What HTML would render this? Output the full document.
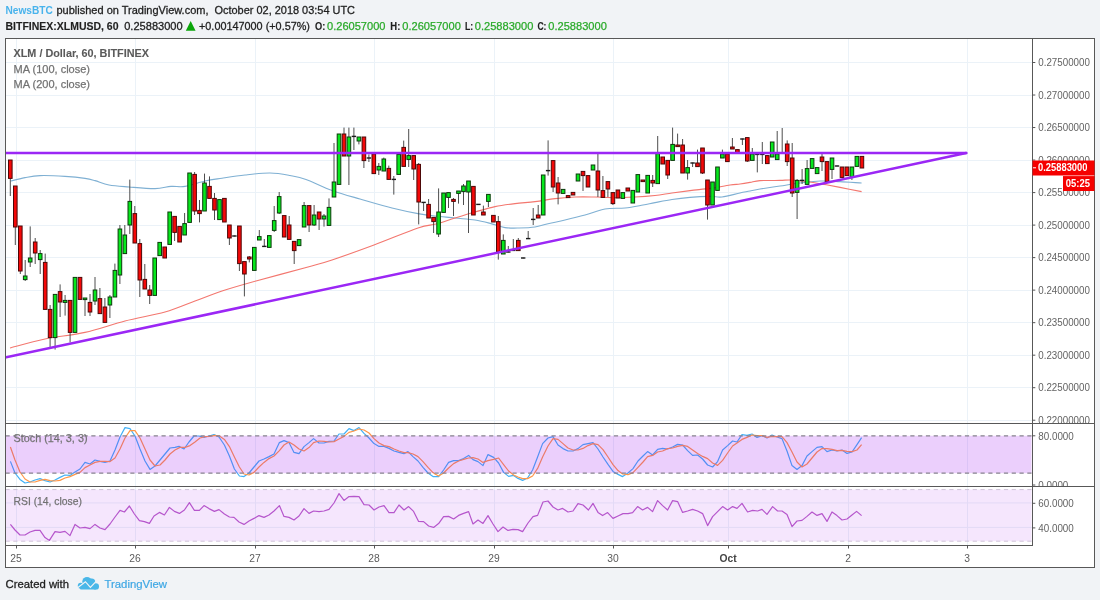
<!DOCTYPE html>
<html lang="en"><head><meta charset="utf-8"><title>XLMUSD chart</title>
<style>html,body{margin:0;padding:0;background:#f1f3f6;}body{width:1100px;height:600px;overflow:hidden;font-family:"Liberation Sans", "DejaVu Sans", sans-serif;}svg{display:block}text{font-family:"Liberation Sans", "DejaVu Sans", sans-serif;}</style></head><body>
<svg width="1100" height="600" viewBox="0 0 1100 600">
<rect x="0" y="0" width="1100" height="600" fill="#f1f3f6"/>
<rect x="5.5" y="38.5" width="1089" height="529" fill="#ffffff"/>
<g stroke="#ebf2f8" stroke-width="1" shape-rendering="crispEdges">
<line x1="16.5" y1="38.5" x2="16.5" y2="545.5"/>
<line x1="135.5" y1="38.5" x2="135.5" y2="545.5"/>
<line x1="255.5" y1="38.5" x2="255.5" y2="545.5"/>
<line x1="374.5" y1="38.5" x2="374.5" y2="545.5"/>
<line x1="494.5" y1="38.5" x2="494.5" y2="545.5"/>
<line x1="613.5" y1="38.5" x2="613.5" y2="545.5"/>
<line x1="728.5" y1="38.5" x2="728.5" y2="545.5"/>
<line x1="848.5" y1="38.5" x2="848.5" y2="545.5"/>
<line x1="967.5" y1="38.5" x2="967.5" y2="545.5"/>
<line x1="5.5" y1="62.5" x2="1032.5" y2="62.5"/>
<line x1="5.5" y1="95.5" x2="1032.5" y2="95.5"/>
<line x1="5.5" y1="127.5" x2="1032.5" y2="127.5"/>
<line x1="5.5" y1="160.5" x2="1032.5" y2="160.5"/>
<line x1="5.5" y1="192.5" x2="1032.5" y2="192.5"/>
<line x1="5.5" y1="225.5" x2="1032.5" y2="225.5"/>
<line x1="5.5" y1="257.5" x2="1032.5" y2="257.5"/>
<line x1="5.5" y1="290.5" x2="1032.5" y2="290.5"/>
<line x1="5.5" y1="322.5" x2="1032.5" y2="322.5"/>
<line x1="5.5" y1="355.5" x2="1032.5" y2="355.5"/>
<line x1="5.5" y1="387.5" x2="1032.5" y2="387.5"/>
<line x1="5.5" y1="420.5" x2="1032.5" y2="420.5"/>
<line x1="5.5" y1="502.9" x2="1032.5" y2="502.9" shape-rendering="auto"/>
<line x1="5.5" y1="527.4" x2="1032.5" y2="527.4" shape-rendering="auto"/>
</g>
<defs><clipPath id="c1"><rect x="5.5" y="38.5" width="1027" height="385"/></clipPath>
<clipPath id="c2"><rect x="5.5" y="423.5" width="1027" height="63"/></clipPath>
<clipPath id="a1"><rect x="1032.5" y="38.5" width="62" height="384.5"/></clipPath>
<clipPath id="a2"><rect x="1032.5" y="423.5" width="62" height="62.5"/></clipPath>
<clipPath id="c3"><rect x="5.5" y="486.5" width="1027" height="59"/></clipPath></defs>
<polyline points="10.4,461.4 15.0,473.0 20.0,479.4 25.0,483.0 30.0,482.0 35.0,480.0 40.0,478.6 45.0,480.6 50.0,482.0 55.0,480.0 60.0,477.4 65.0,475.0 70.0,475.4 75.0,472.0 80.0,469.0 85.0,462.4 90.0,464.0 95.0,460.0 100.0,461.4 105.0,462.4 110.0,461.0 115.0,450.0 120.0,437.0 125.0,427.6 130.0,428.6 135.0,436.0 140.0,449.0 145.0,461.0 150.0,469.4 155.0,466.0 160.0,460.0 165.0,454.0 170.0,448.0 175.0,447.4 179.0,446.4 184.0,449.0 189.0,442.0 194.0,436.0 199.0,436.0 204.0,437.4 209.0,436.0 214.0,434.6 219.0,437.0 224.4,445.0 229.4,456.0 234.4,469.0 239.4,476.0 244.0,476.6 249.0,473.0 254.0,467.0 259.0,461.0 264.0,459.0 269.0,456.6 274.0,454.0 279.4,442.6 284.0,440.6 289.0,442.6 294.0,452.4 299.0,453.6 304.0,446.6 309.0,442.6 313.6,438.6 319.0,443.0 324.0,443.0 329.0,441.4 334.0,441.0 339.0,434.0 344.0,434.0 349.0,428.6 354.0,430.6 359.0,427.6 364.0,433.4 369.0,438.0 374.0,443.6 379.0,446.4 384.0,446.4 389.0,448.4 394.0,451.0 399.0,452.4 404.0,453.6 408.0,451.6 413.0,456.6 418.0,461.0 423.0,467.4 428.0,473.0 433.0,476.6 435.0,476.6 438.6,476.6 443.6,470.0 448.6,462.4 453.6,460.6 458.6,460.6 463.6,458.6 468.6,455.4 473.0,459.6 478.0,461.6 483.0,465.6 488.0,454.6 493.6,457.4 498.6,463.0 503.6,472.4 508.6,476.4 513.6,475.4 518.0,478.4 522.6,480.4 527.6,478.0 532.6,470.0 537.6,457.0 542.6,443.6 548.0,438.0 553.0,436.6 558.0,445.0 563.0,448.6 568.0,451.0 573.0,451.0 578.0,448.6 583.0,444.6 588.0,443.6 593.0,442.6 598.0,449.0 603.0,457.0 608.0,464.4 613.0,471.4 618.0,474.4 622.6,476.6 628.0,473.0 633.0,468.6 638.0,461.0 643.0,456.0 647.6,451.6 652.6,455.0 657.6,449.4 662.6,448.4 667.6,449.0 672.6,447.0 677.6,444.4 682.6,445.0 687.6,450.6 692.6,455.4 697.6,455.0 702.6,459.0 707.6,465.0 712.6,467.0 717.6,461.6 722.6,450.0 727.6,445.6 732.6,441.0 737.0,442.0 742.0,434.6 747.0,435.4 752.0,434.0 757.0,437.4 762.0,435.6 767.0,438.0 772.0,435.0 777.0,437.0 782.0,438.6 787.0,451.0 792.0,465.6 797.0,469.4 802.0,465.6 807.0,456.0 812.0,451.6 817.0,447.4 822.0,446.6 827.0,451.6 832.0,450.0 837.0,451.0 842.0,450.0 847.0,453.4 852.0,452.0 857.0,444.6 861.6,437.6" fill="none" stroke="#42b0f6" stroke-width="1.2" stroke-linejoin="round" clip-path="url(#c2)" />
<polyline points="10.4,447.0 15.0,460.0 20.0,472.0 25.0,479.0 30.0,482.0 35.0,482.0 40.0,480.4 45.0,479.4 50.0,480.6 55.0,481.0 60.0,480.4 65.0,478.0 70.0,476.6 75.0,474.4 80.0,472.4 85.0,467.6 90.0,465.0 95.0,462.4 100.0,461.4 105.0,461.4 110.0,461.6 115.0,458.0 120.0,449.0 125.0,438.0 130.0,430.6 135.0,430.6 140.0,438.0 145.0,449.0 150.0,460.0 155.0,466.0 160.0,465.0 165.0,460.0 170.0,454.0 175.0,450.0 180.0,447.4 185.0,447.4 190.0,445.6 195.0,442.0 200.0,438.0 205.0,436.6 210.0,436.4 215.0,435.4 219.4,436.0 224.4,439.4 229.4,446.6 234.4,457.0 239.4,467.0 244.0,474.0 249.0,475.0 254.0,472.4 259.0,467.0 264.0,462.4 269.0,458.6 274.0,456.0 279.4,450.6 284.0,445.0 289.0,442.0 294.0,445.0 299.0,449.0 304.0,451.0 309.0,447.6 313.6,442.6 319.0,441.0 324.0,441.4 329.0,442.0 334.0,441.6 339.0,439.0 344.0,436.4 349.0,432.4 354.0,431.0 359.0,429.0 364.0,430.0 369.0,433.0 374.0,438.6 379.0,443.0 384.0,445.6 389.0,446.6 394.0,449.0 399.0,451.0 404.0,452.6 408.0,452.6 413.0,454.0 418.0,456.6 423.0,461.6 428.0,467.4 433.0,472.6 435.0,474.0 438.6,476.0 443.6,473.0 448.6,468.0 453.6,463.6 458.6,461.0 463.6,459.4 468.6,458.0 473.0,457.6 478.0,459.0 483.0,462.4 488.0,460.6 493.6,459.4 498.6,458.0 503.6,464.6 508.6,471.0 513.6,475.0 518.0,477.0 522.6,478.6 527.6,478.6 532.6,476.0 537.6,468.4 542.6,457.0 548.0,446.0 553.0,438.6 558.0,439.4 563.0,443.6 568.0,448.0 573.0,450.0 578.0,450.0 583.0,448.4 588.0,445.6 593.0,443.6 598.0,444.6 603.0,449.6 608.0,457.0 613.0,464.6 618.0,470.6 622.6,474.0 628.0,474.6 633.0,472.6 638.0,467.4 643.0,462.0 647.6,456.6 652.6,455.4 657.6,452.0 662.6,451.0 667.6,448.6 672.6,448.0 677.6,446.4 682.6,445.4 687.6,446.4 692.6,450.0 697.6,453.6 702.6,456.4 707.6,458.6 712.6,463.0 717.6,465.4 722.6,460.4 727.6,453.0 732.6,446.0 737.0,443.0 742.0,439.4 747.0,437.4 752.0,435.0 757.0,435.6 762.0,435.6 767.0,437.4 772.0,436.4 777.0,436.6 782.0,436.6 787.0,442.6 792.0,452.0 797.0,462.0 802.0,467.0 807.0,464.0 812.0,458.0 817.0,452.0 822.0,448.6 827.0,448.6 832.0,449.4 837.0,450.6 842.0,450.4 847.0,451.4 852.0,451.6 857.0,450.0 861.6,444.6" fill="none" stroke="#ff9648" stroke-width="1.2" stroke-linejoin="round" clip-path="url(#c2)" />
<polyline points="10.4,524.4 15.0,530.0 20.0,535.0 25.0,535.0 30.0,532.0 35.0,530.4 40.0,530.4 45.0,537.6 49.4,540.4 55.0,531.6 60.0,532.4 65.0,531.4 70.0,535.6 75.0,524.4 80.0,528.0 85.0,527.4 90.0,528.6 95.0,524.4 100.0,528.0 105.0,529.6 110.0,524.0 115.0,517.0 120.0,510.4 124.4,512.0 129.4,506.0 134.4,514.0 139.4,520.6 144.4,521.6 149.4,523.4 154.0,516.0 159.4,512.4 164.4,515.0 169.4,507.4 174.4,511.4 179.4,513.4 184.4,510.0 189.4,502.6 194.4,510.4 199.4,510.4 204.0,505.6 209.0,508.6 214.4,511.4 219.0,509.6 224.4,514.0 229.4,517.0 234.0,517.4 239.0,522.0 244.0,524.4 249.0,521.0 254.0,518.4 259.0,515.6 264.0,517.4 269.0,515.0 274.0,511.0 279.4,505.6 284.0,516.4 289.0,517.4 294.0,520.0 299.0,516.0 304.0,508.6 309.0,513.4 313.6,511.0 319.0,511.6 324.0,511.0 329.0,509.4 334.0,503.0 339.0,493.6 344.0,500.4 349.0,496.6 354.0,496.4 359.0,496.6 364.0,504.6 369.0,505.0 374.0,510.0 379.0,507.0 384.0,505.6 389.0,512.6 394.0,512.6 399.0,505.0 404.0,510.0 408.6,506.6 413.6,511.4 418.6,521.4 423.6,521.6 428.6,526.0 433.6,527.4 438.6,523.6 443.6,516.6 448.6,516.4 453.6,519.0 458.6,515.4 463.6,513.4 468.6,511.6 473.0,524.0 478.0,520.0 483.0,523.4 488.0,515.6 493.0,524.0 498.0,531.6 503.0,527.0 508.0,530.4 513.0,529.4 518.0,529.6 522.6,531.6 528.0,523.0 533.0,516.6 537.6,515.4 543.0,502.0 548.0,501.0 553.0,507.0 558.0,510.0 562.6,508.4 568.0,512.0 573.0,511.0 578.0,503.6 583.0,505.0 588.4,510.0 593.0,503.4 598.0,512.4 602.6,515.6 607.6,512.6 613.0,518.4 618.0,516.0 623.0,513.6 628.0,513.6 632.6,512.6 637.6,506.6 642.6,510.0 647.6,507.4 652.6,511.6 657.6,500.6 662.6,505.6 667.6,510.0 672.6,500.6 677.6,501.6 682.6,512.4 687.6,511.0 692.6,509.4 697.6,511.0 702.6,513.6 707.6,525.6 712.6,516.6 717.6,511.6 722.6,506.6 727.6,510.0 732.6,506.6 737.0,508.4 742.0,503.4 747.6,512.0 752.6,510.4 757.6,511.0 762.0,509.4 767.0,514.4 772.6,506.6 777.6,511.0 782.0,511.0 787.0,514.4 792.0,526.6 797.0,521.0 802.0,520.4 807.0,516.4 812.0,512.0 817.0,515.4 822.0,513.6 827.0,521.4 832.0,512.0 837.0,515.6 842.0,520.0 847.0,519.0 852.0,515.0 856.6,511.4 861.6,515.6" fill="none" stroke="#b95fc9" stroke-width="1.2" stroke-linejoin="round" clip-path="url(#c3)" />
<rect x="6" y="489.6" width="1025.5" height="51.6" fill="rgb(155,10,238)" fill-opacity="0.1"/>
<rect x="6" y="435.8" width="1025.5" height="37.4" fill="rgb(155,15,240)" fill-opacity="0.2"/>
<g stroke="#87828e" stroke-width="1.15" stroke-dasharray="4.2,3.6" fill="none">
<line x1="5.5" y1="435.8" x2="1032.5" y2="435.8"/><line x1="5.5" y1="473.1" x2="1032.5" y2="473.1"/>
</g>
<g stroke="#cfc3d8" stroke-width="1" stroke-dasharray="4.2,3.6" fill="none">
<line x1="5.5" y1="489.6" x2="1032.5" y2="489.6"/><line x1="5.5" y1="541.2" x2="1032.5" y2="541.2"/>
</g>
<path d="M11.0,181.0 C13.3,180.4 20.2,178.5 25.0,177.6 C29.8,176.7 33.3,175.8 40.0,175.6 C46.7,175.4 57.5,175.9 65.0,176.4 C72.5,176.9 80.0,177.7 85.0,178.4 C90.0,179.1 91.0,179.5 95.0,180.6 C99.0,181.7 103.3,183.9 109.0,185.0 C114.7,186.1 121.3,186.4 129.0,187.0 C136.7,187.6 148.0,188.7 155.0,188.6 C162.0,188.5 166.0,186.8 171.0,186.4 C176.0,186.0 179.3,187.3 185.0,186.4 C190.7,185.5 198.8,182.4 205.0,181.0 C211.2,179.6 215.3,179.2 222.0,178.2 C228.7,177.2 237.0,175.9 245.0,175.0 C253.0,174.1 262.5,172.9 270.0,173.0 C277.5,173.1 284.0,174.4 290.0,175.5 C296.0,176.6 299.0,176.9 306.0,179.4 C313.0,181.9 323.0,187.1 332.0,190.4 C341.0,193.7 350.0,196.1 360.0,199.0 C370.0,201.9 382.3,205.6 392.0,208.0 C401.7,210.4 410.8,212.3 418.0,213.6 C425.2,214.9 428.8,215.3 435.0,216.0 C441.2,216.7 448.3,217.3 455.0,218.0 C461.7,218.7 469.0,219.1 475.0,220.0 C481.0,220.9 486.0,222.3 491.0,223.6 C496.0,224.9 500.3,226.9 505.0,227.6 C509.7,228.3 514.0,228.1 519.0,228.0 C524.0,227.9 530.3,227.7 535.0,227.0 C539.7,226.3 542.0,225.2 547.0,224.0 C552.0,222.8 558.7,221.5 565.0,220.0 C571.3,218.5 578.3,216.8 585.0,215.0 C591.7,213.2 598.3,210.2 605.0,209.0 C611.7,207.8 618.7,208.7 625.0,208.0 C631.3,207.3 638.0,205.9 643.0,205.0 C648.0,204.1 650.2,203.5 655.0,202.6 C659.8,201.7 666.2,200.4 672.0,199.5 C677.8,198.6 683.7,197.9 690.0,197.4 C696.3,196.9 704.7,196.5 710.0,196.4 C715.3,196.3 717.0,197.6 722.0,197.0 C727.0,196.4 735.3,194.0 740.0,193.0 C744.7,192.0 746.7,191.7 750.0,191.0 C753.3,190.3 755.0,189.8 760.0,189.0 C765.0,188.2 773.3,187.0 780.0,186.0 C786.7,185.0 793.3,183.8 800.0,183.0 C806.7,182.2 813.3,181.2 820.0,181.0 C826.7,180.8 833.1,181.3 840.0,181.6 C846.9,181.9 858.0,182.8 861.6,183.0" fill="none" stroke="#7fb0d3" stroke-width="1.1" clip-path="url(#c1)"/>
<path d="M10.0,348.0 C15.8,346.5 32.5,341.6 45.0,339.0 C57.5,336.4 71.7,335.4 85.0,332.4 C98.3,329.4 111.7,324.4 125.0,321.0 C138.3,317.6 153.3,315.3 165.0,312.0 C176.7,308.7 185.5,304.5 195.0,301.0 C204.5,297.5 211.8,294.3 222.0,291.0 C232.2,287.7 241.7,285.0 256.0,281.0 C270.3,277.0 295.3,270.5 308.0,267.0 C320.7,263.5 321.0,263.7 332.0,260.0 C343.0,256.3 359.7,250.3 374.0,245.0 C388.3,239.7 407.7,231.5 418.0,228.0 C428.3,224.5 429.8,225.7 436.0,224.0 C442.2,222.3 448.5,220.0 455.0,218.0 C461.5,216.0 468.3,213.9 475.0,212.0 C481.7,210.1 488.3,208.0 495.0,206.6 C501.7,205.2 508.3,204.4 515.0,203.6 C521.7,202.8 528.3,202.4 535.0,201.6 C541.7,200.8 548.3,199.4 555.0,198.6 C561.7,197.8 568.3,197.3 575.0,197.0 C581.7,196.7 588.3,196.9 595.0,197.0 C601.7,197.1 608.3,197.6 615.0,197.6 C621.7,197.6 628.3,197.3 635.0,197.0 C641.7,196.7 648.8,196.2 655.0,195.5 C661.2,194.8 666.2,193.8 672.0,193.0 C677.8,192.2 683.7,191.4 690.0,190.6 C696.3,189.8 703.3,189.3 710.0,188.4 C716.7,187.5 725.0,185.7 730.0,185.0 C735.0,184.3 736.7,184.4 740.0,184.0 C743.3,183.6 746.7,183.0 750.0,182.4 C753.3,181.8 755.0,180.9 760.0,180.6 C765.0,180.3 774.7,180.5 780.0,180.4 C785.3,180.3 787.0,179.7 792.0,180.0 C797.0,180.3 804.7,181.3 810.0,182.0 C815.3,182.7 819.0,183.5 824.0,184.4 C829.0,185.3 833.7,186.2 840.0,187.4 C846.3,188.6 858.0,190.9 861.6,191.6" fill="none" stroke="#f3776f" stroke-width="1.1" clip-path="url(#c1)"/>
<g clip-path="url(#c1)">
<line x1="10.3" y1="160" x2="10.3" y2="196" stroke="#3a3a3a" stroke-width="0.9"/>
<rect x="8.5" y="160" width="3.6" height="18.4" fill="#f40808" stroke="#4d0808" stroke-width="1"/>
<line x1="15.3" y1="186" x2="15.3" y2="245" stroke="#3a3a3a" stroke-width="0.9"/>
<rect x="13.5" y="186" width="3.6" height="41" fill="#f40808" stroke="#4d0808" stroke-width="1"/>
<line x1="20.3" y1="226" x2="20.3" y2="274" stroke="#3a3a3a" stroke-width="0.9"/>
<rect x="18.5" y="226" width="3.6" height="45" fill="#f40808" stroke="#4d0808" stroke-width="1"/>
<line x1="25.2" y1="260" x2="25.2" y2="281" stroke="#3a3a3a" stroke-width="0.9"/>
<rect x="23.4" y="276" width="3.6" height="3.6" fill="#06e81c" stroke="#0c3a0c" stroke-width="1"/>
<line x1="30.2" y1="226.4" x2="30.2" y2="267" stroke="#3a3a3a" stroke-width="0.9"/>
<rect x="28.4" y="258" width="3.6" height="4" fill="#06e81c" stroke="#0c3a0c" stroke-width="1"/>
<line x1="35.2" y1="238" x2="35.2" y2="264" stroke="#3a3a3a" stroke-width="0.9"/>
<rect x="33.4" y="242" width="3.6" height="11" fill="#f40808" stroke="#4d0808" stroke-width="1"/>
<line x1="40.2" y1="250" x2="40.2" y2="274" stroke="#3a3a3a" stroke-width="0.9"/>
<rect x="38.4" y="253.6" width="3.6" height="6" fill="#06e81c" stroke="#0c3a0c" stroke-width="1"/>
<line x1="45.2" y1="253.6" x2="45.2" y2="309.4" stroke="#3a3a3a" stroke-width="0.9"/>
<rect x="43.4" y="262.4" width="3.6" height="47" fill="#f40808" stroke="#4d0808" stroke-width="1"/>
<line x1="50.1" y1="305" x2="50.1" y2="348" stroke="#3a3a3a" stroke-width="0.9"/>
<rect x="48.3" y="309.4" width="3.6" height="28.2" fill="#f40808" stroke="#4d0808" stroke-width="1"/>
<line x1="55.1" y1="294.4" x2="55.1" y2="349.6" stroke="#3a3a3a" stroke-width="0.9"/>
<rect x="53.3" y="294.4" width="3.6" height="43.2" fill="#06e81c" stroke="#0c3a0c" stroke-width="1"/>
<line x1="60.1" y1="284.4" x2="60.1" y2="317" stroke="#3a3a3a" stroke-width="0.9"/>
<rect x="58.3" y="291.6" width="3.6" height="10.4" fill="#f40808" stroke="#4d0808" stroke-width="1"/>
<line x1="65.1" y1="295" x2="65.1" y2="315.6" stroke="#3a3a3a" stroke-width="0.9"/>
<rect x="63.3" y="300.4" width="3.6" height="2" fill="#06e81c" stroke="#0c3a0c" stroke-width="1"/>
<line x1="70.1" y1="300.4" x2="70.1" y2="342.4" stroke="#3a3a3a" stroke-width="0.9"/>
<rect x="68.3" y="300.4" width="3.6" height="32" fill="#f40808" stroke="#4d0808" stroke-width="1"/>
<line x1="75" y1="277.4" x2="75" y2="332.4" stroke="#3a3a3a" stroke-width="0.9"/>
<rect x="73.2" y="277.4" width="3.6" height="55" fill="#06e81c" stroke="#0c3a0c" stroke-width="1"/>
<line x1="80" y1="277.4" x2="80" y2="299.4" stroke="#3a3a3a" stroke-width="0.9"/>
<rect x="78.2" y="277.4" width="3.6" height="22" fill="#f40808" stroke="#4d0808" stroke-width="1"/>
<line x1="85" y1="298" x2="85" y2="316" stroke="#3a3a3a" stroke-width="0.9"/>
<rect x="83.2" y="298" width="3.6" height="1.6" fill="#06e81c" stroke="#0c3a0c" stroke-width="1"/>
<line x1="90" y1="294" x2="90" y2="316" stroke="#3a3a3a" stroke-width="0.9"/>
<rect x="88.2" y="302.4" width="3.6" height="9.6" fill="#f40808" stroke="#4d0808" stroke-width="1"/>
<line x1="95" y1="277" x2="95" y2="305" stroke="#3a3a3a" stroke-width="0.9"/>
<rect x="93.2" y="290" width="3.6" height="11" fill="#06e81c" stroke="#0c3a0c" stroke-width="1"/>
<line x1="99.9" y1="288" x2="99.9" y2="313.6" stroke="#3a3a3a" stroke-width="0.9"/>
<rect x="98.1" y="298.6" width="3.6" height="15" fill="#f40808" stroke="#4d0808" stroke-width="1"/>
<line x1="104.9" y1="298" x2="104.9" y2="322.4" stroke="#3a3a3a" stroke-width="0.9"/>
<rect x="103.1" y="307" width="3.6" height="15.4" fill="#f40808" stroke="#4d0808" stroke-width="1"/>
<line x1="109.9" y1="295" x2="109.9" y2="318" stroke="#3a3a3a" stroke-width="0.9"/>
<rect x="108.1" y="297" width="3.6" height="8" fill="#06e81c" stroke="#0c3a0c" stroke-width="1"/>
<line x1="114.9" y1="263.6" x2="114.9" y2="297" stroke="#3a3a3a" stroke-width="0.9"/>
<rect x="113.1" y="270.4" width="3.6" height="26.6" fill="#06e81c" stroke="#0c3a0c" stroke-width="1"/>
<line x1="119.9" y1="225" x2="119.9" y2="284" stroke="#3a3a3a" stroke-width="0.9"/>
<rect x="118.1" y="229" width="3.6" height="46" fill="#06e81c" stroke="#0c3a0c" stroke-width="1"/>
<line x1="124.8" y1="225" x2="124.8" y2="253.6" stroke="#3a3a3a" stroke-width="0.9"/>
<rect x="123" y="235" width="3.6" height="18.6" fill="#06e81c" stroke="#0c3a0c" stroke-width="1"/>
<line x1="129.8" y1="179.6" x2="129.8" y2="234" stroke="#3a3a3a" stroke-width="0.9"/>
<rect x="128" y="201.4" width="3.6" height="23.6" fill="#06e81c" stroke="#0c3a0c" stroke-width="1"/>
<line x1="134.8" y1="206" x2="134.8" y2="243" stroke="#3a3a3a" stroke-width="0.9"/>
<rect x="133" y="213.6" width="3.6" height="29.4" fill="#f40808" stroke="#4d0808" stroke-width="1"/>
<line x1="139.8" y1="239" x2="139.8" y2="297" stroke="#3a3a3a" stroke-width="0.9"/>
<rect x="138" y="243.6" width="3.6" height="36.4" fill="#f40808" stroke="#4d0808" stroke-width="1"/>
<line x1="144.8" y1="264" x2="144.8" y2="289" stroke="#3a3a3a" stroke-width="0.9"/>
<rect x="143" y="279.4" width="3.6" height="9.6" fill="#f40808" stroke="#4d0808" stroke-width="1"/>
<line x1="149.7" y1="285" x2="149.7" y2="304" stroke="#3a3a3a" stroke-width="0.9"/>
<rect x="147.9" y="290" width="3.6" height="5.4" fill="#f40808" stroke="#4d0808" stroke-width="1"/>
<line x1="154.7" y1="258" x2="154.7" y2="295.4" stroke="#3a3a3a" stroke-width="0.9"/>
<rect x="152.9" y="258" width="3.6" height="37.4" fill="#06e81c" stroke="#0c3a0c" stroke-width="1"/>
<line x1="159.7" y1="242.4" x2="159.7" y2="255.6" stroke="#3a3a3a" stroke-width="0.9"/>
<rect x="157.9" y="242.4" width="3.6" height="13.2" fill="#06e81c" stroke="#0c3a0c" stroke-width="1"/>
<line x1="164.7" y1="247" x2="164.7" y2="258" stroke="#3a3a3a" stroke-width="0.9"/>
<rect x="162.9" y="247" width="3.6" height="11" fill="#f40808" stroke="#4d0808" stroke-width="1"/>
<line x1="169.7" y1="212" x2="169.7" y2="244.4" stroke="#3a3a3a" stroke-width="0.9"/>
<rect x="167.9" y="212" width="3.6" height="32.4" fill="#06e81c" stroke="#0c3a0c" stroke-width="1"/>
<line x1="174.6" y1="216.4" x2="174.6" y2="241" stroke="#3a3a3a" stroke-width="0.9"/>
<rect x="172.8" y="216.4" width="3.6" height="16" fill="#f40808" stroke="#4d0808" stroke-width="1"/>
<line x1="179.6" y1="226.4" x2="179.6" y2="242" stroke="#3a3a3a" stroke-width="0.9"/>
<rect x="177.8" y="226.4" width="3.6" height="15.6" fill="#f40808" stroke="#4d0808" stroke-width="1"/>
<line x1="184.6" y1="213" x2="184.6" y2="235" stroke="#3a3a3a" stroke-width="0.9"/>
<rect x="182.8" y="223.6" width="3.6" height="11.4" fill="#06e81c" stroke="#0c3a0c" stroke-width="1"/>
<line x1="189.6" y1="173" x2="189.6" y2="222.4" stroke="#3a3a3a" stroke-width="0.9"/>
<rect x="187.8" y="173" width="3.6" height="49.4" fill="#06e81c" stroke="#0c3a0c" stroke-width="1"/>
<line x1="194.6" y1="172" x2="194.6" y2="215" stroke="#3a3a3a" stroke-width="0.9"/>
<rect x="192.8" y="174.4" width="3.6" height="36.6" fill="#f40808" stroke="#4d0808" stroke-width="1"/>
<line x1="199.5" y1="200" x2="199.5" y2="222.4" stroke="#3a3a3a" stroke-width="0.9"/>
<rect x="197.7" y="210.4" width="3.6" height="3.2" fill="#f40808" stroke="#4d0808" stroke-width="1"/>
<line x1="204.5" y1="173.6" x2="204.5" y2="211" stroke="#3a3a3a" stroke-width="0.9"/>
<rect x="202.7" y="183" width="3.6" height="28" fill="#06e81c" stroke="#0c3a0c" stroke-width="1"/>
<line x1="209.5" y1="176.4" x2="209.5" y2="198.4" stroke="#3a3a3a" stroke-width="0.9"/>
<rect x="207.7" y="186.4" width="3.6" height="12" fill="#f40808" stroke="#4d0808" stroke-width="1"/>
<line x1="214.5" y1="193" x2="214.5" y2="220" stroke="#3a3a3a" stroke-width="0.9"/>
<rect x="212.7" y="198.4" width="3.6" height="11.6" fill="#f40808" stroke="#4d0808" stroke-width="1"/>
<line x1="219.5" y1="199.6" x2="219.5" y2="219.6" stroke="#3a3a3a" stroke-width="0.9"/>
<rect x="217.7" y="199.6" width="3.6" height="20" fill="#06e81c" stroke="#0c3a0c" stroke-width="1"/>
<line x1="224.4" y1="198.4" x2="224.4" y2="222" stroke="#3a3a3a" stroke-width="0.9"/>
<rect x="222.6" y="198.4" width="3.6" height="23.6" fill="#f40808" stroke="#4d0808" stroke-width="1"/>
<line x1="229.4" y1="225" x2="229.4" y2="245" stroke="#3a3a3a" stroke-width="0.9"/>
<rect x="227.6" y="225" width="3.6" height="13" fill="#f40808" stroke="#4d0808" stroke-width="1"/>
<line x1="234.4" y1="235.6" x2="234.4" y2="236.4" stroke="#3a3a3a" stroke-width="0.9"/>
<rect x="232.2" y="235.3" width="4.4" height="1.4" fill="#1a1a1a"/>
<line x1="239.4" y1="226" x2="239.4" y2="271" stroke="#3a3a3a" stroke-width="0.9"/>
<rect x="237.6" y="226" width="3.6" height="37.6" fill="#f40808" stroke="#4d0808" stroke-width="1"/>
<line x1="244.4" y1="261.6" x2="244.4" y2="296.4" stroke="#3a3a3a" stroke-width="0.9"/>
<rect x="242.6" y="261.6" width="3.6" height="12.4" fill="#f40808" stroke="#4d0808" stroke-width="1"/>
<line x1="249.3" y1="256" x2="249.3" y2="262.4" stroke="#3a3a3a" stroke-width="0.9"/>
<rect x="247.5" y="257" width="3.6" height="2" fill="#f40808" stroke="#4d0808" stroke-width="1"/>
<line x1="254.3" y1="247.4" x2="254.3" y2="270.4" stroke="#3a3a3a" stroke-width="0.9"/>
<rect x="252.5" y="247.4" width="3.6" height="23" fill="#06e81c" stroke="#0c3a0c" stroke-width="1"/>
<line x1="259.3" y1="230" x2="259.3" y2="240" stroke="#3a3a3a" stroke-width="0.9"/>
<rect x="257.5" y="236.6" width="3.6" height="3.4" fill="#06e81c" stroke="#0c3a0c" stroke-width="1"/>
<line x1="264.3" y1="239" x2="264.3" y2="246.8" stroke="#3a3a3a" stroke-width="0.9"/>
<rect x="262.1" y="245.7" width="4.4" height="1.4" fill="#1a1a1a"/>
<line x1="269.3" y1="235.6" x2="269.3" y2="247.4" stroke="#3a3a3a" stroke-width="0.9"/>
<rect x="267.5" y="235.6" width="3.6" height="11.8" fill="#06e81c" stroke="#0c3a0c" stroke-width="1"/>
<line x1="274.2" y1="206" x2="274.2" y2="232" stroke="#3a3a3a" stroke-width="0.9"/>
<rect x="272.4" y="220.6" width="3.6" height="9.8" fill="#06e81c" stroke="#0c3a0c" stroke-width="1"/>
<line x1="279.2" y1="192" x2="279.2" y2="214" stroke="#3a3a3a" stroke-width="0.9"/>
<rect x="277.4" y="196.6" width="3.6" height="16.4" fill="#06e81c" stroke="#0c3a0c" stroke-width="1"/>
<line x1="284.2" y1="215.6" x2="284.2" y2="237" stroke="#3a3a3a" stroke-width="0.9"/>
<rect x="282.4" y="215.6" width="3.6" height="21.4" fill="#f40808" stroke="#4d0808" stroke-width="1"/>
<line x1="289.2" y1="216" x2="289.2" y2="239.4" stroke="#3a3a3a" stroke-width="0.9"/>
<rect x="287.4" y="225" width="3.6" height="14.4" fill="#f40808" stroke="#4d0808" stroke-width="1"/>
<line x1="294.2" y1="241.4" x2="294.2" y2="264" stroke="#3a3a3a" stroke-width="0.9"/>
<rect x="292.4" y="241.4" width="3.6" height="9.2" fill="#f40808" stroke="#4d0808" stroke-width="1"/>
<line x1="299.1" y1="239.6" x2="299.1" y2="245.6" stroke="#3a3a3a" stroke-width="0.9"/>
<rect x="297.3" y="239.6" width="3.6" height="6" fill="#06e81c" stroke="#0c3a0c" stroke-width="1"/>
<line x1="304.1" y1="202" x2="304.1" y2="227" stroke="#3a3a3a" stroke-width="0.9"/>
<rect x="302.3" y="205.6" width="3.6" height="21.4" fill="#06e81c" stroke="#0c3a0c" stroke-width="1"/>
<line x1="309.1" y1="205.6" x2="309.1" y2="232" stroke="#3a3a3a" stroke-width="0.9"/>
<rect x="307.3" y="205.6" width="3.6" height="19.4" fill="#f40808" stroke="#4d0808" stroke-width="1"/>
<line x1="314.1" y1="205" x2="314.1" y2="226" stroke="#3a3a3a" stroke-width="0.9"/>
<rect x="312.3" y="215" width="3.6" height="10" fill="#06e81c" stroke="#0c3a0c" stroke-width="1"/>
<line x1="319.1" y1="212" x2="319.1" y2="230" stroke="#3a3a3a" stroke-width="0.9"/>
<rect x="317.3" y="212" width="3.6" height="7" fill="#f40808" stroke="#4d0808" stroke-width="1"/>
<line x1="324" y1="214" x2="324" y2="226.6" stroke="#3a3a3a" stroke-width="0.9"/>
<rect x="322.2" y="216" width="3.6" height="3" fill="#06e81c" stroke="#0c3a0c" stroke-width="1"/>
<line x1="329" y1="198.4" x2="329" y2="225.4" stroke="#3a3a3a" stroke-width="0.9"/>
<rect x="327.2" y="207.4" width="3.6" height="18" fill="#06e81c" stroke="#0c3a0c" stroke-width="1"/>
<line x1="334" y1="143" x2="334" y2="197" stroke="#3a3a3a" stroke-width="0.9"/>
<rect x="332.2" y="182" width="3.6" height="15" fill="#06e81c" stroke="#0c3a0c" stroke-width="1"/>
<line x1="339" y1="134" x2="339" y2="184.4" stroke="#3a3a3a" stroke-width="0.9"/>
<rect x="337.2" y="134" width="3.6" height="50.4" fill="#06e81c" stroke="#0c3a0c" stroke-width="1"/>
<line x1="344" y1="127.6" x2="344" y2="156" stroke="#3a3a3a" stroke-width="0.9"/>
<rect x="342.2" y="134" width="3.6" height="22" fill="#f40808" stroke="#4d0808" stroke-width="1"/>
<line x1="348.9" y1="127.6" x2="348.9" y2="185" stroke="#3a3a3a" stroke-width="0.9"/>
<rect x="347.1" y="137" width="3.6" height="19" fill="#06e81c" stroke="#0c3a0c" stroke-width="1"/>
<line x1="353.9" y1="127.6" x2="353.9" y2="150" stroke="#3a3a3a" stroke-width="0.9"/>
<rect x="351.7" y="135.7" width="4.4" height="1.4" fill="#1a1a1a"/>
<line x1="358.9" y1="137" x2="358.9" y2="144.4" stroke="#3a3a3a" stroke-width="0.9"/>
<rect x="357.1" y="137" width="3.6" height="4" fill="#06e81c" stroke="#0c3a0c" stroke-width="1"/>
<line x1="363.9" y1="137" x2="363.9" y2="168" stroke="#3a3a3a" stroke-width="0.9"/>
<rect x="362.1" y="137" width="3.6" height="23.6" fill="#f40808" stroke="#4d0808" stroke-width="1"/>
<line x1="368.9" y1="154.4" x2="368.9" y2="162" stroke="#3a3a3a" stroke-width="0.9"/>
<rect x="366.7" y="157.3" width="4.4" height="1.4" fill="#1a1a1a"/>
<line x1="373.8" y1="154" x2="373.8" y2="173.6" stroke="#3a3a3a" stroke-width="0.9"/>
<rect x="372" y="154" width="3.6" height="19.6" fill="#f40808" stroke="#4d0808" stroke-width="1"/>
<line x1="378.8" y1="163" x2="378.8" y2="175" stroke="#3a3a3a" stroke-width="0.9"/>
<rect x="377" y="166.4" width="3.6" height="3.6" fill="#06e81c" stroke="#0c3a0c" stroke-width="1"/>
<line x1="383.8" y1="157.6" x2="383.8" y2="171" stroke="#3a3a3a" stroke-width="0.9"/>
<rect x="382" y="159" width="3.6" height="12" fill="#06e81c" stroke="#0c3a0c" stroke-width="1"/>
<line x1="388.8" y1="165.6" x2="388.8" y2="179.4" stroke="#3a3a3a" stroke-width="0.9"/>
<rect x="387" y="168.4" width="3.6" height="11" fill="#f40808" stroke="#4d0808" stroke-width="1"/>
<line x1="393.8" y1="176" x2="393.8" y2="194.6" stroke="#3a3a3a" stroke-width="0.9"/>
<rect x="391.6" y="178.7" width="4.4" height="1.4" fill="#1a1a1a"/>
<line x1="398.7" y1="154.4" x2="398.7" y2="174.4" stroke="#3a3a3a" stroke-width="0.9"/>
<rect x="396.9" y="154.4" width="3.6" height="20" fill="#06e81c" stroke="#0c3a0c" stroke-width="1"/>
<line x1="403.7" y1="140.6" x2="403.7" y2="166.4" stroke="#3a3a3a" stroke-width="0.9"/>
<rect x="401.9" y="147.4" width="3.6" height="19" fill="#f40808" stroke="#4d0808" stroke-width="1"/>
<line x1="408.7" y1="129" x2="408.7" y2="167" stroke="#3a3a3a" stroke-width="0.9"/>
<rect x="406.9" y="155.6" width="3.6" height="3.8" fill="#06e81c" stroke="#0c3a0c" stroke-width="1"/>
<line x1="413.7" y1="155.6" x2="413.7" y2="180" stroke="#3a3a3a" stroke-width="0.9"/>
<rect x="411.9" y="155.6" width="3.6" height="13.4" fill="#f40808" stroke="#4d0808" stroke-width="1"/>
<line x1="418.7" y1="163" x2="418.7" y2="224.4" stroke="#3a3a3a" stroke-width="0.9"/>
<rect x="416.9" y="164.4" width="3.6" height="37.6" fill="#f40808" stroke="#4d0808" stroke-width="1"/>
<line x1="423.6" y1="202" x2="423.6" y2="211" stroke="#3a3a3a" stroke-width="0.9"/>
<rect x="421.4" y="201.7" width="4.4" height="1.4" fill="#1a1a1a"/>
<line x1="428.6" y1="199" x2="428.6" y2="218" stroke="#3a3a3a" stroke-width="0.9"/>
<rect x="426.8" y="204.4" width="3.6" height="13.6" fill="#f40808" stroke="#4d0808" stroke-width="1"/>
<line x1="433.6" y1="217.4" x2="433.6" y2="233" stroke="#3a3a3a" stroke-width="0.9"/>
<rect x="431.8" y="217.4" width="3.6" height="4.2" fill="#f40808" stroke="#4d0808" stroke-width="1"/>
<line x1="438.6" y1="188.4" x2="438.6" y2="237" stroke="#3a3a3a" stroke-width="0.9"/>
<rect x="436.8" y="212" width="3.6" height="22" fill="#06e81c" stroke="#0c3a0c" stroke-width="1"/>
<line x1="443.6" y1="193" x2="443.6" y2="212.4" stroke="#3a3a3a" stroke-width="0.9"/>
<rect x="441.8" y="193" width="3.6" height="19.4" fill="#06e81c" stroke="#0c3a0c" stroke-width="1"/>
<line x1="448.5" y1="192.6" x2="448.5" y2="208" stroke="#3a3a3a" stroke-width="0.9"/>
<rect x="446.7" y="192.6" width="3.6" height="4.8" fill="#06e81c" stroke="#0c3a0c" stroke-width="1"/>
<line x1="453.5" y1="198" x2="453.5" y2="216" stroke="#3a3a3a" stroke-width="0.9"/>
<rect x="451.7" y="199.4" width="3.6" height="2" fill="#f40808" stroke="#4d0808" stroke-width="1"/>
<line x1="458.5" y1="191" x2="458.5" y2="203.6" stroke="#3a3a3a" stroke-width="0.9"/>
<rect x="456.7" y="191" width="3.6" height="2.4" fill="#06e81c" stroke="#0c3a0c" stroke-width="1"/>
<line x1="463.5" y1="184" x2="463.5" y2="205" stroke="#3a3a3a" stroke-width="0.9"/>
<rect x="461.7" y="186" width="3.6" height="5.6" fill="#06e81c" stroke="#0c3a0c" stroke-width="1"/>
<line x1="468.5" y1="181" x2="468.5" y2="233" stroke="#3a3a3a" stroke-width="0.9"/>
<rect x="466.7" y="181" width="3.6" height="11" fill="#06e81c" stroke="#0c3a0c" stroke-width="1"/>
<line x1="473.4" y1="186.4" x2="473.4" y2="215" stroke="#3a3a3a" stroke-width="0.9"/>
<rect x="471.6" y="186.4" width="3.6" height="28.6" fill="#f40808" stroke="#4d0808" stroke-width="1"/>
<line x1="478.4" y1="204" x2="478.4" y2="204.8" stroke="#3a3a3a" stroke-width="0.9"/>
<rect x="476.2" y="203.7" width="4.4" height="1.4" fill="#1a1a1a"/>
<line x1="483.4" y1="205.6" x2="483.4" y2="215" stroke="#3a3a3a" stroke-width="0.9"/>
<rect x="481.6" y="212" width="3.6" height="3" fill="#f40808" stroke="#4d0808" stroke-width="1"/>
<line x1="488.4" y1="194.4" x2="488.4" y2="207" stroke="#3a3a3a" stroke-width="0.9"/>
<rect x="486.6" y="194.4" width="3.6" height="7" fill="#06e81c" stroke="#0c3a0c" stroke-width="1"/>
<line x1="493.4" y1="215.4" x2="493.4" y2="222" stroke="#3a3a3a" stroke-width="0.9"/>
<rect x="491.6" y="215.4" width="3.6" height="6.6" fill="#f40808" stroke="#4d0808" stroke-width="1"/>
<line x1="498.3" y1="216" x2="498.3" y2="259.6" stroke="#3a3a3a" stroke-width="0.9"/>
<rect x="496.5" y="221.6" width="3.6" height="30.4" fill="#f40808" stroke="#4d0808" stroke-width="1"/>
<line x1="503.3" y1="234.4" x2="503.3" y2="254" stroke="#3a3a3a" stroke-width="0.9"/>
<rect x="501.5" y="240.4" width="3.6" height="13.6" fill="#06e81c" stroke="#0c3a0c" stroke-width="1"/>
<line x1="508.3" y1="246" x2="508.3" y2="252.4" stroke="#3a3a3a" stroke-width="0.9"/>
<rect x="506.1" y="251.3" width="4.4" height="1.4" fill="#1a1a1a"/>
<line x1="513.3" y1="239" x2="513.3" y2="250.8" stroke="#3a3a3a" stroke-width="0.9"/>
<rect x="511.1" y="249.7" width="4.4" height="1.4" fill="#1a1a1a"/>
<line x1="518.3" y1="238" x2="518.3" y2="250.6" stroke="#3a3a3a" stroke-width="0.9"/>
<rect x="516.5" y="240.4" width="3.6" height="10.2" fill="#f40808" stroke="#4d0808" stroke-width="1"/>
<line x1="523.2" y1="257.6" x2="523.2" y2="258.4" stroke="#3a3a3a" stroke-width="0.9"/>
<rect x="521" y="257.3" width="4.4" height="1.4" fill="#1a1a1a"/>
<line x1="528.2" y1="231" x2="528.2" y2="239" stroke="#3a3a3a" stroke-width="0.9"/>
<rect x="526" y="237.9" width="4.4" height="1.4" fill="#1a1a1a"/>
<line x1="533.2" y1="208" x2="533.2" y2="225" stroke="#3a3a3a" stroke-width="0.9"/>
<rect x="531" y="218.7" width="4.4" height="1.4" fill="#1a1a1a"/>
<line x1="538.2" y1="205" x2="538.2" y2="218" stroke="#3a3a3a" stroke-width="0.9"/>
<rect x="536.4" y="215" width="3.6" height="3" fill="#f40808" stroke="#4d0808" stroke-width="1"/>
<line x1="543.2" y1="175" x2="543.2" y2="215" stroke="#3a3a3a" stroke-width="0.9"/>
<rect x="541.4" y="175" width="3.6" height="40" fill="#06e81c" stroke="#0c3a0c" stroke-width="1"/>
<line x1="548.1" y1="140.4" x2="548.1" y2="175.6" stroke="#3a3a3a" stroke-width="0.9"/>
<rect x="545.9" y="169.9" width="4.4" height="1.4" fill="#1a1a1a"/>
<line x1="553.1" y1="160.6" x2="553.1" y2="192" stroke="#3a3a3a" stroke-width="0.9"/>
<rect x="551.3" y="160.6" width="3.6" height="26.4" fill="#f40808" stroke="#4d0808" stroke-width="1"/>
<line x1="558.1" y1="177" x2="558.1" y2="204.4" stroke="#3a3a3a" stroke-width="0.9"/>
<rect x="556.3" y="183" width="3.6" height="10" fill="#f40808" stroke="#4d0808" stroke-width="1"/>
<line x1="563.1" y1="189.4" x2="563.1" y2="193.4" stroke="#3a3a3a" stroke-width="0.9"/>
<rect x="561.3" y="189.4" width="3.6" height="4" fill="#06e81c" stroke="#0c3a0c" stroke-width="1"/>
<line x1="568.1" y1="195.6" x2="568.1" y2="197.6" stroke="#3a3a3a" stroke-width="0.9"/>
<rect x="566.3" y="195.6" width="3.6" height="2" fill="#f40808" stroke="#4d0808" stroke-width="1"/>
<line x1="573" y1="192.4" x2="573" y2="195" stroke="#3a3a3a" stroke-width="0.9"/>
<rect x="571.2" y="192.4" width="3.6" height="2.6" fill="#f40808" stroke="#4d0808" stroke-width="1"/>
<line x1="578" y1="174" x2="578" y2="181" stroke="#3a3a3a" stroke-width="0.9"/>
<rect x="576.2" y="174" width="3.6" height="7" fill="#06e81c" stroke="#0c3a0c" stroke-width="1"/>
<line x1="583" y1="171.4" x2="583" y2="191" stroke="#3a3a3a" stroke-width="0.9"/>
<rect x="581.2" y="171.4" width="3.6" height="4.2" fill="#f40808" stroke="#4d0808" stroke-width="1"/>
<line x1="588" y1="175.6" x2="588" y2="187" stroke="#3a3a3a" stroke-width="0.9"/>
<rect x="586.2" y="175.6" width="3.6" height="11.4" fill="#f40808" stroke="#4d0808" stroke-width="1"/>
<line x1="593" y1="165" x2="593" y2="170" stroke="#3a3a3a" stroke-width="0.9"/>
<rect x="591.2" y="165" width="3.6" height="5" fill="#06e81c" stroke="#0c3a0c" stroke-width="1"/>
<line x1="597.9" y1="153.6" x2="597.9" y2="197" stroke="#3a3a3a" stroke-width="0.9"/>
<rect x="596.1" y="171" width="3.6" height="19" fill="#f40808" stroke="#4d0808" stroke-width="1"/>
<line x1="602.9" y1="176" x2="602.9" y2="197.4" stroke="#3a3a3a" stroke-width="0.9"/>
<rect x="601.1" y="190.6" width="3.6" height="6.8" fill="#f40808" stroke="#4d0808" stroke-width="1"/>
<line x1="607.9" y1="181.6" x2="607.9" y2="197" stroke="#3a3a3a" stroke-width="0.9"/>
<rect x="606.1" y="181.6" width="3.6" height="7.4" fill="#f40808" stroke="#4d0808" stroke-width="1"/>
<line x1="612.9" y1="192.6" x2="612.9" y2="205" stroke="#3a3a3a" stroke-width="0.9"/>
<rect x="611.1" y="192.6" width="3.6" height="11" fill="#f40808" stroke="#4d0808" stroke-width="1"/>
<line x1="617.9" y1="190" x2="617.9" y2="198" stroke="#3a3a3a" stroke-width="0.9"/>
<rect x="616.1" y="190" width="3.6" height="8" fill="#f40808" stroke="#4d0808" stroke-width="1"/>
<line x1="622.8" y1="192.6" x2="622.8" y2="198.4" stroke="#3a3a3a" stroke-width="0.9"/>
<rect x="621" y="192.6" width="3.6" height="5.8" fill="#06e81c" stroke="#0c3a0c" stroke-width="1"/>
<line x1="627.8" y1="188" x2="627.8" y2="191" stroke="#3a3a3a" stroke-width="0.9"/>
<rect x="626" y="188" width="3.6" height="3" fill="#f40808" stroke="#4d0808" stroke-width="1"/>
<line x1="632.8" y1="190.4" x2="632.8" y2="203" stroke="#3a3a3a" stroke-width="0.9"/>
<rect x="631" y="190.4" width="3.6" height="12.6" fill="#06e81c" stroke="#0c3a0c" stroke-width="1"/>
<line x1="637.8" y1="174.6" x2="637.8" y2="192" stroke="#3a3a3a" stroke-width="0.9"/>
<rect x="636" y="174.6" width="3.6" height="17.4" fill="#06e81c" stroke="#0c3a0c" stroke-width="1"/>
<line x1="642.8" y1="180" x2="642.8" y2="181.6" stroke="#3a3a3a" stroke-width="0.9"/>
<rect x="641" y="180" width="3.6" height="1.6" fill="#f40808" stroke="#4d0808" stroke-width="1"/>
<line x1="647.7" y1="175.4" x2="647.7" y2="193" stroke="#3a3a3a" stroke-width="0.9"/>
<rect x="645.9" y="175.4" width="3.6" height="17.6" fill="#06e81c" stroke="#0c3a0c" stroke-width="1"/>
<line x1="652.7" y1="175" x2="652.7" y2="187" stroke="#3a3a3a" stroke-width="0.9"/>
<rect x="650.9" y="180.4" width="3.6" height="2.6" fill="#f40808" stroke="#4d0808" stroke-width="1"/>
<line x1="657.7" y1="136" x2="657.7" y2="183.6" stroke="#3a3a3a" stroke-width="0.9"/>
<rect x="655.9" y="153.6" width="3.6" height="30" fill="#06e81c" stroke="#0c3a0c" stroke-width="1"/>
<line x1="662.7" y1="157" x2="662.7" y2="164" stroke="#3a3a3a" stroke-width="0.9"/>
<rect x="660.9" y="157" width="3.6" height="7" fill="#f40808" stroke="#4d0808" stroke-width="1"/>
<line x1="667.7" y1="160.4" x2="667.7" y2="179" stroke="#3a3a3a" stroke-width="0.9"/>
<rect x="665.9" y="160.4" width="3.6" height="14.6" fill="#f40808" stroke="#4d0808" stroke-width="1"/>
<line x1="672.6" y1="127.6" x2="672.6" y2="160.4" stroke="#3a3a3a" stroke-width="0.9"/>
<rect x="670.8" y="144.4" width="3.6" height="16" fill="#06e81c" stroke="#0c3a0c" stroke-width="1"/>
<line x1="677.6" y1="133.6" x2="677.6" y2="146.6" stroke="#3a3a3a" stroke-width="0.9"/>
<rect x="675.8" y="145" width="3.6" height="1.6" fill="#f40808" stroke="#4d0808" stroke-width="1"/>
<line x1="682.6" y1="139" x2="682.6" y2="173" stroke="#3a3a3a" stroke-width="0.9"/>
<rect x="680.8" y="145" width="3.6" height="28" fill="#f40808" stroke="#4d0808" stroke-width="1"/>
<line x1="687.6" y1="160" x2="687.6" y2="179.6" stroke="#3a3a3a" stroke-width="0.9"/>
<rect x="685.8" y="167.6" width="3.6" height="5.4" fill="#06e81c" stroke="#0c3a0c" stroke-width="1"/>
<line x1="692.6" y1="162.6" x2="692.6" y2="167" stroke="#3a3a3a" stroke-width="0.9"/>
<rect x="690.4" y="162.3" width="4.4" height="1.4" fill="#1a1a1a"/>
<line x1="697.5" y1="149.6" x2="697.5" y2="166.6" stroke="#3a3a3a" stroke-width="0.9"/>
<rect x="695.7" y="163" width="3.6" height="3.6" fill="#f40808" stroke="#4d0808" stroke-width="1"/>
<line x1="702.5" y1="148" x2="702.5" y2="174" stroke="#3a3a3a" stroke-width="0.9"/>
<rect x="700.7" y="148" width="3.6" height="25" fill="#f40808" stroke="#4d0808" stroke-width="1"/>
<line x1="707.5" y1="180" x2="707.5" y2="219.6" stroke="#3a3a3a" stroke-width="0.9"/>
<rect x="705.7" y="180" width="3.6" height="25" fill="#f40808" stroke="#4d0808" stroke-width="1"/>
<line x1="712.5" y1="182" x2="712.5" y2="205" stroke="#3a3a3a" stroke-width="0.9"/>
<rect x="710.7" y="182" width="3.6" height="23" fill="#06e81c" stroke="#0c3a0c" stroke-width="1"/>
<line x1="717.5" y1="167" x2="717.5" y2="190.4" stroke="#3a3a3a" stroke-width="0.9"/>
<rect x="715.7" y="167" width="3.6" height="23.4" fill="#06e81c" stroke="#0c3a0c" stroke-width="1"/>
<line x1="722.4" y1="149.6" x2="722.4" y2="158" stroke="#3a3a3a" stroke-width="0.9"/>
<rect x="720.6" y="154" width="3.6" height="4" fill="#06e81c" stroke="#0c3a0c" stroke-width="1"/>
<line x1="727.4" y1="154" x2="727.4" y2="161.6" stroke="#3a3a3a" stroke-width="0.9"/>
<rect x="725.6" y="154" width="3.6" height="7.6" fill="#f40808" stroke="#4d0808" stroke-width="1"/>
<line x1="732.4" y1="138" x2="732.4" y2="149" stroke="#3a3a3a" stroke-width="0.9"/>
<rect x="730.6" y="147" width="3.6" height="2" fill="#f40808" stroke="#4d0808" stroke-width="1"/>
<line x1="737.4" y1="149.6" x2="737.4" y2="153" stroke="#3a3a3a" stroke-width="0.9"/>
<rect x="735.6" y="149.6" width="3.6" height="3.4" fill="#f40808" stroke="#4d0808" stroke-width="1"/>
<line x1="742.4" y1="138.6" x2="742.4" y2="145" stroke="#3a3a3a" stroke-width="0.9"/>
<rect x="740.2" y="138.3" width="4.4" height="1.4" fill="#1a1a1a"/>
<line x1="747.3" y1="137.6" x2="747.3" y2="162" stroke="#3a3a3a" stroke-width="0.9"/>
<rect x="745.5" y="137.6" width="3.6" height="23.4" fill="#f40808" stroke="#4d0808" stroke-width="1"/>
<line x1="752.3" y1="148" x2="752.3" y2="160.4" stroke="#3a3a3a" stroke-width="0.9"/>
<rect x="750.5" y="154" width="3.6" height="6.4" fill="#06e81c" stroke="#0c3a0c" stroke-width="1"/>
<line x1="757.3" y1="152" x2="757.3" y2="172.4" stroke="#3a3a3a" stroke-width="0.9"/>
<rect x="755.1" y="153.7" width="4.4" height="1.4" fill="#1a1a1a"/>
<line x1="762.3" y1="142" x2="762.3" y2="164" stroke="#3a3a3a" stroke-width="0.9"/>
<rect x="760.1" y="153.7" width="4.4" height="1.4" fill="#1a1a1a"/>
<line x1="767.3" y1="155.6" x2="767.3" y2="163.6" stroke="#3a3a3a" stroke-width="0.9"/>
<rect x="765.5" y="155.6" width="3.6" height="8" fill="#f40808" stroke="#4d0808" stroke-width="1"/>
<line x1="772.2" y1="142" x2="772.2" y2="157" stroke="#3a3a3a" stroke-width="0.9"/>
<rect x="770.4" y="142" width="3.6" height="15" fill="#06e81c" stroke="#0c3a0c" stroke-width="1"/>
<line x1="777.2" y1="131" x2="777.2" y2="159.6" stroke="#3a3a3a" stroke-width="0.9"/>
<rect x="775.4" y="154" width="3.6" height="5.6" fill="#06e81c" stroke="#0c3a0c" stroke-width="1"/>
<line x1="782.2" y1="128" x2="782.2" y2="153.6" stroke="#3a3a3a" stroke-width="0.9"/>
<rect x="780" y="152.5" width="4.4" height="1.4" fill="#1a1a1a"/>
<line x1="787.2" y1="140.4" x2="787.2" y2="166" stroke="#3a3a3a" stroke-width="0.9"/>
<rect x="785.4" y="144" width="3.6" height="17.6" fill="#f40808" stroke="#4d0808" stroke-width="1"/>
<line x1="792.2" y1="143" x2="792.2" y2="197" stroke="#3a3a3a" stroke-width="0.9"/>
<rect x="790.4" y="158" width="3.6" height="35" fill="#f40808" stroke="#4d0808" stroke-width="1"/>
<line x1="797.1" y1="179" x2="797.1" y2="219" stroke="#3a3a3a" stroke-width="0.9"/>
<rect x="795.3" y="180.4" width="3.6" height="12" fill="#06e81c" stroke="#0c3a0c" stroke-width="1"/>
<line x1="802.1" y1="169" x2="802.1" y2="184" stroke="#3a3a3a" stroke-width="0.9"/>
<rect x="799.9" y="179.7" width="4.4" height="1.4" fill="#1a1a1a"/>
<line x1="807.1" y1="160" x2="807.1" y2="184.4" stroke="#3a3a3a" stroke-width="0.9"/>
<rect x="805.3" y="168.6" width="3.6" height="15.8" fill="#06e81c" stroke="#0c3a0c" stroke-width="1"/>
<line x1="812.1" y1="158.6" x2="812.1" y2="168.4" stroke="#3a3a3a" stroke-width="0.9"/>
<rect x="810.3" y="158.6" width="3.6" height="9.8" fill="#06e81c" stroke="#0c3a0c" stroke-width="1"/>
<line x1="817.1" y1="167.6" x2="817.1" y2="173.6" stroke="#3a3a3a" stroke-width="0.9"/>
<rect x="815.3" y="167.6" width="3.6" height="6" fill="#06e81c" stroke="#0c3a0c" stroke-width="1"/>
<line x1="822" y1="154" x2="822" y2="171" stroke="#3a3a3a" stroke-width="0.9"/>
<rect x="820.2" y="157" width="3.6" height="4.6" fill="#f40808" stroke="#4d0808" stroke-width="1"/>
<line x1="827" y1="161.6" x2="827" y2="181.6" stroke="#3a3a3a" stroke-width="0.9"/>
<rect x="825.2" y="161.6" width="3.6" height="20" fill="#f40808" stroke="#4d0808" stroke-width="1"/>
<line x1="832" y1="158" x2="832" y2="179" stroke="#3a3a3a" stroke-width="0.9"/>
<rect x="830.2" y="158" width="3.6" height="11.4" fill="#06e81c" stroke="#0c3a0c" stroke-width="1"/>
<line x1="837" y1="165.6" x2="837" y2="166.4" stroke="#3a3a3a" stroke-width="0.9"/>
<rect x="834.8" y="165.3" width="4.4" height="1.4" fill="#1a1a1a"/>
<line x1="842" y1="167" x2="842" y2="177.4" stroke="#3a3a3a" stroke-width="0.9"/>
<rect x="840.2" y="167" width="3.6" height="10.4" fill="#f40808" stroke="#4d0808" stroke-width="1"/>
<line x1="846.9" y1="167" x2="846.9" y2="175.6" stroke="#3a3a3a" stroke-width="0.9"/>
<rect x="845.1" y="167" width="3.6" height="8.6" fill="#f40808" stroke="#4d0808" stroke-width="1"/>
<line x1="851.9" y1="167" x2="851.9" y2="180" stroke="#3a3a3a" stroke-width="0.9"/>
<rect x="850.1" y="167" width="3.6" height="10" fill="#06e81c" stroke="#0c3a0c" stroke-width="1"/>
<line x1="856.9" y1="156.4" x2="856.9" y2="166.4" stroke="#3a3a3a" stroke-width="0.9"/>
<rect x="855.1" y="156.4" width="3.6" height="10" fill="#06e81c" stroke="#0c3a0c" stroke-width="1"/>
<line x1="861.9" y1="156.4" x2="861.9" y2="168" stroke="#3a3a3a" stroke-width="0.9"/>
<rect x="860.1" y="156.4" width="3.6" height="11.6" fill="#f40808" stroke="#4d0808" stroke-width="1"/>
</g>
<g stroke="#9b27f5" stroke-width="2.5" stroke-linecap="round" clip-path="url(#c1)">
<line x1="5" y1="153" x2="966.2" y2="153"/>
<line x1="5" y1="357.5" x2="966.2" y2="153"/>
</g>
<g stroke="#585858" stroke-width="1" fill="none" shape-rendering="crispEdges">
<line x1="5.5" y1="423.5" x2="1094.5" y2="423.5"/>
<line x1="5.5" y1="486.5" x2="1094.5" y2="486.5"/>
<line x1="5.5" y1="545.5" x2="1032.5" y2="545.5"/>
<line x1="1032.5" y1="38.5" x2="1032.5" y2="545.5"/>
<rect x="5.5" y="38.5" width="1089" height="529"/>
</g>
<g font-size="10.3" fill="#636363" clip-path="url(#a1)">
<line x1="1032.5" y1="62.5" x2="1035.3" y2="62.5" stroke="#555" stroke-width="1"/>
<text x="1038.3" y="66.1" textLength="51.6" lengthAdjust="spacingAndGlyphs">0.27500000</text>
<line x1="1032.5" y1="95.02" x2="1035.3" y2="95.02" stroke="#555" stroke-width="1"/>
<text x="1038.3" y="98.62" textLength="51.6" lengthAdjust="spacingAndGlyphs">0.27000000</text>
<line x1="1032.5" y1="127.54" x2="1035.3" y2="127.54" stroke="#555" stroke-width="1"/>
<text x="1038.3" y="131.14" textLength="51.6" lengthAdjust="spacingAndGlyphs">0.26500000</text>
<line x1="1032.5" y1="160.06" x2="1035.3" y2="160.06" stroke="#555" stroke-width="1"/>
<text x="1038.3" y="163.66" textLength="51.6" lengthAdjust="spacingAndGlyphs">0.26000000</text>
<line x1="1032.5" y1="192.58" x2="1035.3" y2="192.58" stroke="#555" stroke-width="1"/>
<text x="1038.3" y="196.18" textLength="51.6" lengthAdjust="spacingAndGlyphs">0.25500000</text>
<line x1="1032.5" y1="225.1" x2="1035.3" y2="225.1" stroke="#555" stroke-width="1"/>
<text x="1038.3" y="228.7" textLength="51.6" lengthAdjust="spacingAndGlyphs">0.25000000</text>
<line x1="1032.5" y1="257.62" x2="1035.3" y2="257.62" stroke="#555" stroke-width="1"/>
<text x="1038.3" y="261.22" textLength="51.6" lengthAdjust="spacingAndGlyphs">0.24500000</text>
<line x1="1032.5" y1="290.14" x2="1035.3" y2="290.14" stroke="#555" stroke-width="1"/>
<text x="1038.3" y="293.74" textLength="51.6" lengthAdjust="spacingAndGlyphs">0.24000000</text>
<line x1="1032.5" y1="322.66" x2="1035.3" y2="322.66" stroke="#555" stroke-width="1"/>
<text x="1038.3" y="326.26" textLength="51.6" lengthAdjust="spacingAndGlyphs">0.23500000</text>
<line x1="1032.5" y1="355.18" x2="1035.3" y2="355.18" stroke="#555" stroke-width="1"/>
<text x="1038.3" y="358.78" textLength="51.6" lengthAdjust="spacingAndGlyphs">0.23000000</text>
<line x1="1032.5" y1="387.7" x2="1035.3" y2="387.7" stroke="#555" stroke-width="1"/>
<text x="1038.3" y="391.3" textLength="51.6" lengthAdjust="spacingAndGlyphs">0.22500000</text>
<line x1="1032.5" y1="420.22" x2="1035.3" y2="420.22" stroke="#555" stroke-width="1"/>
<text x="1038.3" y="423.82" textLength="51.6" lengthAdjust="spacingAndGlyphs">0.22000000</text>
</g>
<g font-size="10.3" fill="#636363" clip-path="url(#a2)">
<line x1="1032.5" y1="435.8" x2="1035.3" y2="435.8" stroke="#555" stroke-width="1"/>
<text x="1038.3" y="439.6" textLength="35.5" lengthAdjust="spacingAndGlyphs">80.0000</text>
<line x1="1032.5" y1="485" x2="1035.3" y2="485" stroke="#555" stroke-width="1"/>
<text x="1038.3" y="488.8" textLength="30" lengthAdjust="spacingAndGlyphs">0.0000</text>
</g>
<g font-size="10.3" fill="#636363">
<line x1="1032.5" y1="503.3" x2="1035.3" y2="503.3" stroke="#555" stroke-width="1"/>
<text x="1038.3" y="507.1" textLength="35.5" lengthAdjust="spacingAndGlyphs">60.0000</text>
<line x1="1032.5" y1="527.9" x2="1035.3" y2="527.9" stroke="#555" stroke-width="1"/>
<text x="1038.3" y="531.7" textLength="35.5" lengthAdjust="spacingAndGlyphs">40.0000</text>
</g>
<rect x="1032.5" y="160.5" width="62" height="15" fill="#f50000"/>
<rect x="1063" y="176" width="31.5" height="15" fill="#f50000"/>
<line x1="1063" y1="175.7" x2="1094.5" y2="175.7" stroke="#ff8080" stroke-width="0.8"/>
<line x1="1033" y1="167.8" x2="1036" y2="167.8" stroke="#fff" stroke-width="1"/>
<text x="1038" y="170.6" font-size="10.6" font-weight="bold" fill="#fff" textLength="49.5" lengthAdjust="spacingAndGlyphs">0.25883000</text>
<text x="1065.8" y="186.8" font-size="10.6" font-weight="bold" fill="#fff" textLength="24.2" lengthAdjust="spacingAndGlyphs">05:25</text>
<g font-size="10.3" fill="#5c5c5c" text-anchor="middle">
<line x1="16.5" y1="545.5" x2="16.5" y2="548.5" stroke="#555" stroke-width="1"/>
<text x="16" y="562.2">25</text>
<line x1="135.5" y1="545.5" x2="135.5" y2="548.5" stroke="#555" stroke-width="1"/>
<text x="135" y="562.2">26</text>
<line x1="255.5" y1="545.5" x2="255.5" y2="548.5" stroke="#555" stroke-width="1"/>
<text x="255" y="562.2">27</text>
<line x1="374.5" y1="545.5" x2="374.5" y2="548.5" stroke="#555" stroke-width="1"/>
<text x="374" y="562.2">28</text>
<line x1="494.5" y1="545.5" x2="494.5" y2="548.5" stroke="#555" stroke-width="1"/>
<text x="494" y="562.2">29</text>
<line x1="613.5" y1="545.5" x2="613.5" y2="548.5" stroke="#555" stroke-width="1"/>
<text x="613" y="562.2">30</text>
<line x1="728.5" y1="545.5" x2="728.5" y2="548.5" stroke="#555" stroke-width="1"/>
<text x="728" y="562.2" font-weight="bold" fill="#444">Oct</text>
<line x1="848.5" y1="545.5" x2="848.5" y2="548.5" stroke="#555" stroke-width="1"/>
<text x="848" y="562.2">2</text>
<line x1="967.5" y1="545.5" x2="967.5" y2="548.5" stroke="#555" stroke-width="1"/>
<text x="967" y="562.2">3</text>
</g>
<g font-size="11.6">
<text x="5.5" y="13.6" fill="#48b3ec" stroke="#48b3ec" stroke-width="0" font-weight="bold" textLength="47.3" lengthAdjust="spacingAndGlyphs">NewsBTC</text>
<text x="56.5" y="13.6" fill="#1f1f1f" stroke="#1f1f1f" stroke-width="0.3" textLength="152" lengthAdjust="spacingAndGlyphs">published on TradingView.com,</text>
<text x="214.5" y="13.6" fill="#1f1f1f" stroke="#1f1f1f" stroke-width="0.3" textLength="140.5" lengthAdjust="spacingAndGlyphs">October 02, 2018 03:54 UTC</text>
<text x="5.5" y="29.5" fill="#1f1f1f" stroke="#1f1f1f" stroke-width="0.15" font-weight="bold" textLength="113" lengthAdjust="spacingAndGlyphs">BITFINEX:XLMUSD, 60</text>
<text x="124.2" y="29.5" fill="#1f1f1f" stroke="#1f1f1f" stroke-width="0.3" textLength="58.5" lengthAdjust="spacingAndGlyphs">0.25883000</text>
<polygon points="185.8,30.8 195.6,30.8 190.7,21" fill="#0aa60a"/>
<text x="199" y="29.5" fill="#1f1f1f" stroke="#1f1f1f" stroke-width="0.3" textLength="111" lengthAdjust="spacingAndGlyphs">+0.00147000 (+0.57%)</text>
<text x="315" y="29.5" fill="#1f1f1f" stroke="#1f1f1f" stroke-width="0.15" font-weight="bold" textLength="10.3" lengthAdjust="spacingAndGlyphs">O:</text>
<text x="327" y="29.5" fill="#2aaa2a" stroke="#2aaa2a" stroke-width="0.25" textLength="58.5" lengthAdjust="spacingAndGlyphs">0.26057000</text>
<text x="390.3" y="29.5" fill="#1f1f1f" stroke="#1f1f1f" stroke-width="0.15" font-weight="bold" textLength="10" lengthAdjust="spacingAndGlyphs">H:</text>
<text x="402.3" y="29.5" fill="#2aaa2a" stroke="#2aaa2a" stroke-width="0.25" textLength="58.5" lengthAdjust="spacingAndGlyphs">0.26057000</text>
<text x="465" y="29.5" fill="#1f1f1f" stroke="#1f1f1f" stroke-width="0.15" font-weight="bold" textLength="8.2" lengthAdjust="spacingAndGlyphs">L:</text>
<text x="474.8" y="29.5" fill="#2aaa2a" stroke="#2aaa2a" stroke-width="0.25" textLength="58.5" lengthAdjust="spacingAndGlyphs">0.25883000</text>
<text x="537.4" y="29.5" fill="#1f1f1f" stroke="#1f1f1f" stroke-width="0.15" font-weight="bold" textLength="9" lengthAdjust="spacingAndGlyphs">C:</text>
<text x="548.3" y="29.5" fill="#2aaa2a" stroke="#2aaa2a" stroke-width="0.25" textLength="58.5" lengthAdjust="spacingAndGlyphs">0.25883000</text>
</g>
<g font-size="11.6">
<text x="13.5" y="57" fill="#5a5a5a" stroke="#5a5a5a" stroke-width="0.1" font-weight="bold" textLength="135.5" lengthAdjust="spacingAndGlyphs">XLM / Dollar, 60, BITFINEX</text>
<text x="13.5" y="72.5" fill="#727272" stroke="#727272" stroke-width="0.25" textLength="76.5" lengthAdjust="spacingAndGlyphs">MA (100, close)</text>
<text x="13.5" y="87.5" fill="#727272" stroke="#727272" stroke-width="0.25" textLength="76.5" lengthAdjust="spacingAndGlyphs">MA (200, close)</text>
<text x="13.5" y="442.2" fill="#727272" stroke="#727272" stroke-width="0.25" textLength="74" lengthAdjust="spacingAndGlyphs">Stoch (14, 3, 3)</text>
<text x="13.5" y="505" fill="#727272" stroke="#727272" stroke-width="0.25" textLength="68.5" lengthAdjust="spacingAndGlyphs">RSI (14, close)</text>
</g>
<g font-size="11.6">
<text x="5.5" y="588.3" fill="#1f1f1f" stroke="#1f1f1f" stroke-width="0.3" textLength="63.5" lengthAdjust="spacingAndGlyphs">Created with</text>
<text x="104.5" y="588.3" fill="#3ea7e4" stroke="#3ea7e4" stroke-width="0.2" textLength="62.5" lengthAdjust="spacingAndGlyphs">TradingView</text>
</g>
<g transform="translate(0,0.3)"><g fill="#4ab7e8"><circle cx="87" cy="581.3" r="4.7"/><circle cx="91.6" cy="581.9" r="3.7"/><circle cx="80.7" cy="585.4" r="2.9"/><circle cx="95.8" cy="586.1" r="3.2"/><rect x="80" y="584" width="16.5" height="5.3" rx="1"/></g>
<polyline points="77,588 85.4,581.4 90.4,587.2 97.5,579.5" fill="none" stroke="#f1f3f6" stroke-width="1.15"/></g>
</svg></body></html>
